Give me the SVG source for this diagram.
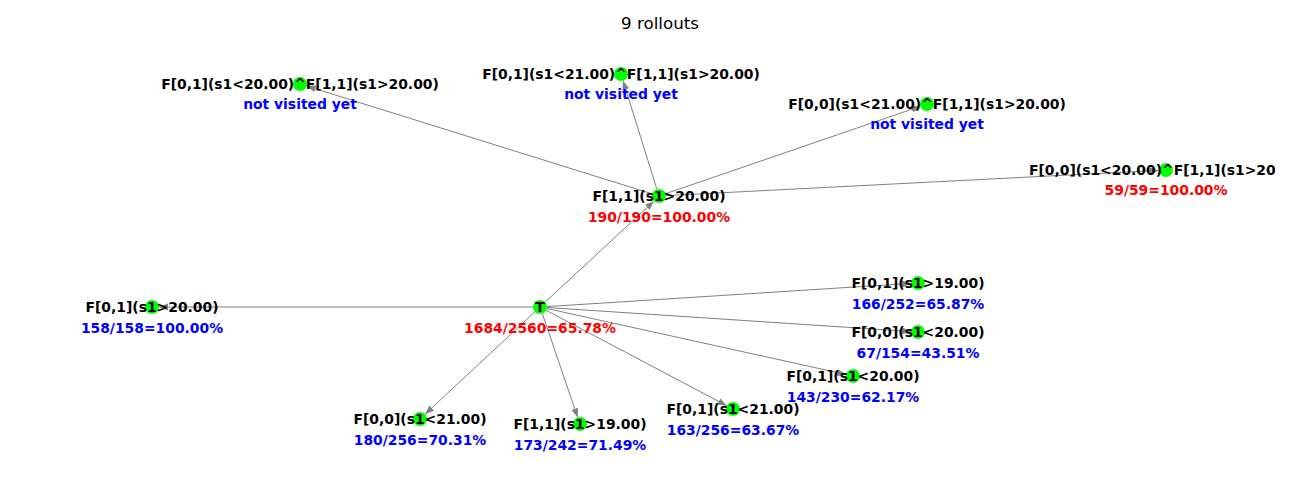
<svg xmlns="http://www.w3.org/2000/svg" width="1300" height="500" viewBox="0 0 1300 500">
<style>
text{font-family:"DejaVu Sans","Liberation Sans",sans-serif;}
.t{font-size:16.7px;text-anchor:middle;fill:#000;}
.n{font-size:13.9px;font-weight:bold;text-anchor:middle;fill:#000;}
.r{font-size:13.9px;font-weight:bold;text-anchor:middle;fill:#ff0000;}
.b{font-size:13.9px;font-weight:bold;text-anchor:middle;fill:#0000ff;}
.c{fill:#00ff00;}
.e line{stroke:#808080;stroke-width:1;marker-end:url(#ah);}
</style>
<defs>
<marker id="ah" markerUnits="userSpaceOnUse" markerWidth="10" markerHeight="8" refX="9" refY="3.5" orient="auto">
<path d="M0,0 L9,3.5 L0,7 z" fill="#808080"/>
</marker>
</defs>
<rect width="1300" height="500" fill="#fff"/>
<text class="t" x="660" y="29">9 rollouts</text>
<g id="edges" class="e">
<line x1="533" y1="307" x2="159" y2="307"/>
<line x1="545.1" y1="302.2" x2="653.9" y2="201.2"/>
<line x1="547" y1="306.6" x2="911" y2="283.4"/>
<line x1="547" y1="307.5" x2="911" y2="331.5"/>
<line x1="546.8" y1="308.5" x2="846.2" y2="374.5"/>
<line x1="546.2" y1="310.3" x2="726.8" y2="405.7"/>
<line x1="542.3" y1="313.6" x2="577.7" y2="417.4"/>
<line x1="534.9" y1="311.8" x2="425.1" y2="414.2"/>
<line x1="652.3" y1="193.9" x2="306.7" y2="86.1"/>
<line x1="656.9" y1="189.3" x2="623.1" y2="80.7"/>
<line x1="665.6" y1="193.7" x2="920.4" y2="106.3"/>
<line x1="666" y1="195.6" x2="1159" y2="170.4"/>
</g>
<g id="node-T"><circle class="c" cx="540" cy="307" r="7"/><text class="n" x="540" y="312">T</text><text class="r" x="540" y="333">1684/2560=65.78%</text></g>
<g id="node-f11-gt20"><circle class="c" cx="659" cy="196" r="7"/><text class="n" x="659" y="201">F[1,1](s1&gt;20.00)</text><text class="r" x="659" y="222">190/190=100.00%</text></g>
<g id="node-a"><circle class="c" cx="300" cy="84" r="7"/><text class="n" x="300" y="89">F[0,1](s1&lt;20.00)^F[1,1](s1&gt;20.00)</text><text class="b" x="300" y="109">not visited yet</text></g>
<g id="node-b"><circle class="c" cx="621" cy="74" r="7"/><text class="n" x="621" y="79">F[0,1](s1&lt;21.00)^F[1,1](s1&gt;20.00)</text><text class="b" x="621" y="99">not visited yet</text></g>
<g id="node-c"><circle class="c" cx="927" cy="104" r="7"/><text class="n" x="927" y="109">F[0,0](s1&lt;21.00)^F[1,1](s1&gt;20.00)</text><text class="b" x="927" y="129">not visited yet</text></g>
<g id="node-d"><circle class="c" cx="1166" cy="170" r="7"/><text class="n" x="1029" y="175" style="text-anchor:start">F[0,0](s1&lt;20.00)^F[1,1](s1&gt;20</text><text class="r" x="1166" y="195">59/59=100.00%</text></g>
<g id="node-e"><circle class="c" cx="152" cy="307" r="7"/><text class="n" x="152" y="312">F[0,1](s1&gt;20.00)</text><text class="b" x="152" y="333">158/158=100.00%</text></g>
<g id="node-f"><circle class="c" cx="918" cy="283" r="7"/><text class="n" x="918" y="288">F[0,1](s1&gt;19.00)</text><text class="b" x="918" y="309">166/252=65.87%</text></g>
<g id="node-g"><circle class="c" cx="918" cy="332" r="7"/><text class="n" x="918" y="337">F[0,0](s1&lt;20.00)</text><text class="b" x="918" y="358">67/154=43.51%</text></g>
<g id="node-h"><circle class="c" cx="853" cy="376" r="7"/><text class="n" x="853" y="381">F[0,1](s1&lt;20.00)</text><text class="b" x="853" y="402">143/230=62.17%</text></g>
<g id="node-i"><circle class="c" cx="733" cy="409" r="7"/><text class="n" x="733" y="414">F[0,1](s1&lt;21.00)</text><text class="b" x="733" y="435">163/256=63.67%</text></g>
<g id="node-j"><circle class="c" cx="580" cy="424" r="7"/><text class="n" x="580" y="429">F[1,1](s1&gt;19.00)</text><text class="b" x="580" y="450">173/242=71.49%</text></g>
<g id="node-k"><circle class="c" cx="420" cy="419" r="7"/><text class="n" x="420" y="424">F[0,0](s1&lt;21.00)</text><text class="b" x="420" y="445">180/256=70.31%</text></g>
</svg>
